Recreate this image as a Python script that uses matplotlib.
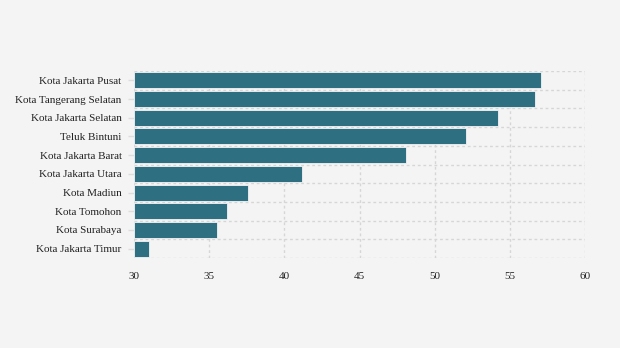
import matplotlib
matplotlib.use("Agg")
import matplotlib.pyplot as plt
import numpy as np

categories = ["Kota Jakarta Pusat", "Kota Tangerang Selatan", "Kota Jakarta Selatan",
              "Teluk Bintuni", "Kota Jakarta Barat", "Kota Jakarta Utara",
              "Kota Madiun", "Kota Tomohon", "Kota Surabaya", "Kota Jakarta Timur"]
values = [57.1, 56.7, 54.2, 52.1, 48.1, 41.2, 37.6, 36.2, 35.5, 31.0]
xticks = [30, 35, 40, 45, 50, 55, 60]

plt.rcParams['font.family'] = ['Liberation Serif', 'DejaVu Serif']

fig = plt.figure(figsize=(6.2, 3.48), dpi=100)
fig.patch.set_facecolor('#f4f4f4')
ax = fig.add_axes([134/620, 1-258/348, (585-134)/620, (258-71)/348])
ax.set_facecolor('#f4f4f4')

y = np.arange(len(categories))
ax.barh(y, [v - 30 for v in values], left=30, height=0.86, color='#2f6f82',
        edgecolor='#f4f4f4', linewidth=0.6, zorder=3)

ax.set_xlim(30, 60)
ax.set_ylim(len(categories) - 0.5, -0.5)
ax.set_xticks(xticks)
ax.set_xticklabels([str(t) for t in xticks])
ax.set_yticks(y)
ax.set_yticklabels(categories)
ax.set_yticks(np.arange(-0.5, len(categories)), minor=True)

for s in ax.spines.values():
    s.set_visible(False)

ax.grid(axis='x', which='major', color='#d6d6d6', linestyle=(0, (2, 2)), linewidth=1, zorder=0)
ax.grid(axis='y', which='minor', color='#d6d6d6', linestyle=(0, (2, 2)), linewidth=1, zorder=0)
ax.tick_params(axis='y', which='minor', length=0)
ax.tick_params(axis='y', which='major', length=4, color='#dddddd', width=1, pad=5,
               labelsize=8, labelcolor='#222222')
ax.tick_params(axis='x', which='major', length=0, pad=10, labelsize=8, labelcolor='#222222')

fig.savefig("out.png", dpi=100, facecolor=fig.get_facecolor())
